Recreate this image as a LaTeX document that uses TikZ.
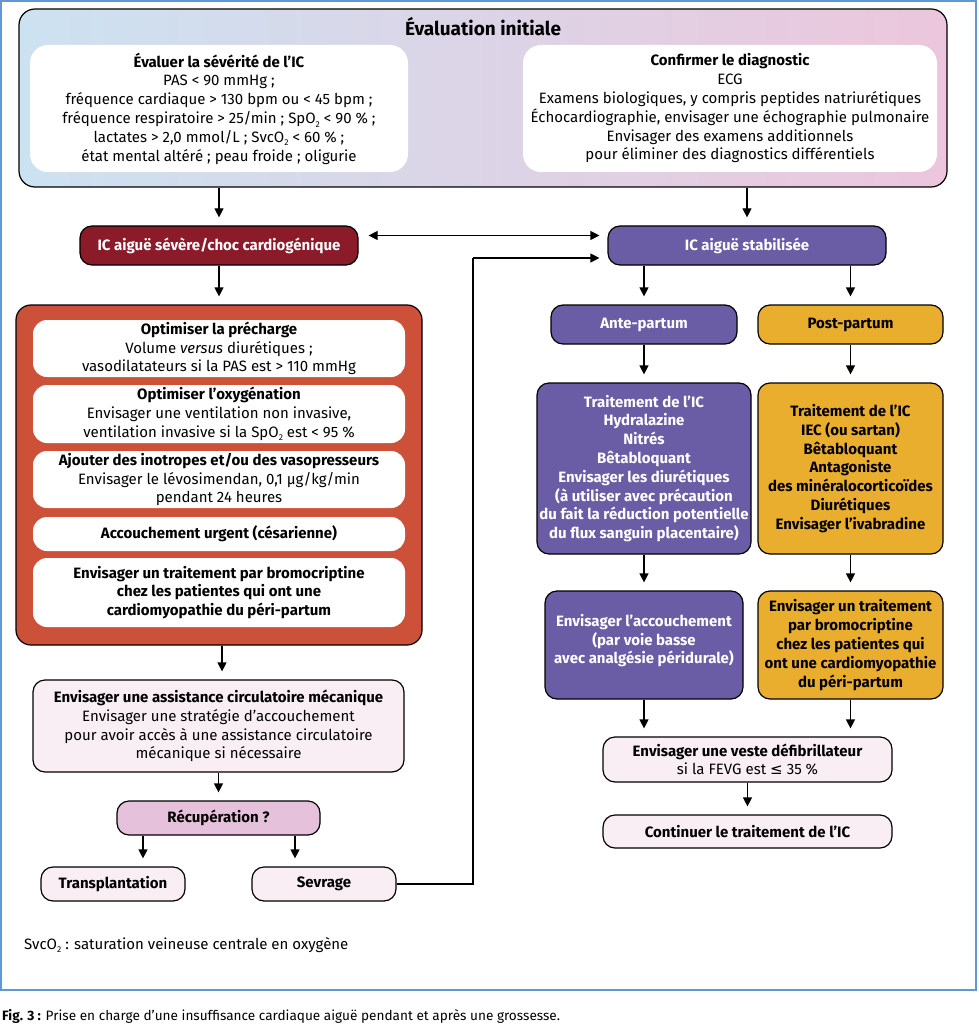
\documentclass[tikz,border=0pt]{standalone}
\usepackage{fontspec}
\setmainfont{Fira Sans}
\newfontfamily\symfont{DejaVu Sans}
\usetikzlibrary{arrows.meta}
\newcommand\lowtwo{\raisebox{-0.45ex}{\fontsize{8.5}{8.5}\selectfont 2}}
\definecolor{framecol}{RGB}{96,152,212}
\definecolor{gradL}{RGB}{204,226,241}
\definecolor{gradR}{RGB}{236,198,220}
\definecolor{darkred}{RGB}{140,27,42}
\definecolor{redbox}{RGB}{205,80,56}
\definecolor{purp}{RGB}{106,93,165}
\definecolor{yell}{RGB}{233,174,45}
\definecolor{lpink}{RGB}{248,238,244}
\definecolor{mpink}{RGB}{230,193,219}
\begin{document}
\begin{tikzpicture}[x=1pt,y=-1pt,
  body/.style={font=\fontsize{15}{18.8}\selectfont, align=center, inner sep=1pt},
  bbody/.style={font=\fontsize{15}{18.8}\selectfont\bfseries, align=center, inner sep=1pt},
  box/.style={draw=black, line width=1.2pt, rounded corners=12pt},
  wbox/.style={fill=white, draw=none, rounded corners=14pt},
  arr/.style={line width=1.2pt, -{Triangle[length=9pt,width=9pt]}, shorten >=8pt},
  darr/.style={line width=1.2pt, {Triangle[length=9pt,width=9pt]}-{Triangle[length=9pt,width=9pt]}},
  conn/.style={line width=1.2pt}
]
\useasboundingbox (0,0) rectangle (978,1024);
\fill[white] (0,0) rectangle (978,1024);
\draw[framecol, line width=2pt] (1,1) rectangle (976,990);

% Top evaluation box
\node[box, rounded corners=16pt, left color=gradL, right color=gradR, minimum width=928pt, minimum height=178pt] (eval) at (483,98) {};
\node[font=\fontsize{19}{22}\selectfont\bfseries] (evtitle) at (483,27) {Évaluation initiale};
\node[body, wbox, rounded corners=18pt, minimum width=378pt, minimum height=127pt] (sev) at (219,108.5)
 {\textbf{Évaluer la sévérité de l’IC}\\ PAS < 90 mmHg ;\\ fréquence cardiaque > 130 bpm ou < 45 bpm ;\\ fréquence respiratoire > 25/min ; SpO\lowtwo{} < 90 \% ;\\ lactates > 2,0 mmol/L ; SvcO\lowtwo{} < 60 \% ;\\ état mental altéré ; peau froide ; oligurie};
\node[body, wbox, rounded corners=18pt, minimum width=414pt, minimum height=127pt] (diag) at (730,108.5)
 {\textbf{Confirmer le diagnostic}\\ ECG\\ Examens biologiques, y compris peptides natriurétiques\\ Échocardiographie, envisager une échographie pulmonaire\\ Envisager des examens additionnels\\ pour éliminer des diagnostics différentiels};

% Second row
\node[bbody, box, fill=darkred, text=white, minimum width=278pt, minimum height=39pt] (choc) at (219,245.5) {IC aiguë sévère/choc cardiogénique};
\node[bbody, box, fill=purp, text=white, minimum width=278pt, minimum height=39pt] (stab) at (747,245.5) {IC aiguë stabilisée};

% Left red container
\node[box, rounded corners=15pt, fill=redbox, minimum width=406pt, minimum height=340pt] (redc) at (219,475) {};
\node[body, wbox, minimum width=372pt, minimum height=57pt] (pre) at (219,348.5)
 {\textbf{Optimiser la précharge}\\ Volume \textit{versus} diurétiques ;\\ vasodilatateurs si la PAS est > 110 mmHg};
\node[body, wbox, minimum width=372pt, minimum height=58pt] (oxy) at (219,414)
 {\textbf{Optimiser l’oxygénation}\\ Envisager une ventilation non invasive,\\ ventilation invasive si la SpO\lowtwo{} est < 95 \%};
\node[body, wbox, minimum width=372pt, minimum height=57pt] (ino) at (219,479.5)
 {\textbf{Ajouter des inotropes et/ou des vasopresseurs}\\ Envisager le lévosimendan, 0,1 µg/kg/min\\ pendant 24 heures};
\node[bbody, wbox, minimum width=372pt, minimum height=34pt] (ces) at (219,534)
 {Accouchement urgent (césarienne)};
\node[bbody, wbox, minimum width=372pt, minimum height=69pt] (bromL) at (219,592.5)
 {Envisager un traitement par bromocriptine\\ chez les patientes qui ont une\\ cardiomyopathie du péri-partum};

\node[body, box, fill=lpink, minimum width=371pt, minimum height=92pt] (assist) at (218.5,726)
 {\textbf{Envisager une assistance circulatoire mécanique}\\ Envisager une stratégie d’accouchement\\ pour avoir accès à une assistance circulatoire\\ mécanique si nécessaire};
\node[bbody, box, fill=mpink, minimum width=203pt, minimum height=34pt] (recup) at (218.5,818) {Récupération ?};
\node[bbody, box, fill=lpink, minimum width=144pt, minimum height=34pt] (transp) at (113,884) {Transplantation};
\node[bbody, box, fill=lpink, minimum width=144pt, minimum height=34pt] (sevr) at (324,884) {Sevrage};

% Right column
\node[bbody, box, fill=purp, text=white, minimum width=186pt, minimum height=39pt] (ante) at (644,324.5) {Ante-partum};
\node[bbody, box, fill=yell, minimum width=185pt, minimum height=39pt] (post) at (850.5,324.5) {Post-partum};
\node[bbody, box, fill=purp, text=white, minimum width=214pt, minimum height=171pt] (trA) at (644,468.5)
 {Traitement de l’IC\\ Hydralazine\\ Nitrés\\ Bêtabloquant\\ Envisager les diurétiques\\ (à utiliser avec précaution\\ du fait la réduction potentielle\\ du flux sanguin placentaire)};
\node[bbody, box, fill=yell, minimum width=185pt, minimum height=171pt] (trP) at (850.5,468.5)
 {Traitement de l’IC\\ IEC (ou sartan)\\ Bêtabloquant\\ Antagoniste\\ des minéralocorticoïdes\\ Diurétiques\\ Envisager l’ivabradine};
\node[bbody, box, fill=purp, text=white, minimum width=198pt, minimum height=108pt, text depth=12pt] (acc) at (644,645)
 {Envisager l’accouchement\\ (par voie basse\\ avec analgésie péridurale)};
\node[bbody, box, fill=yell, minimum width=185pt, minimum height=108pt] (bromP) at (850.5,645)
 {Envisager un traitement\\ par bromocriptine\\ chez les patientes qui\\ ont une cardiomyopathie\\ du péri-partum};
\node[body, box, fill=lpink, minimum width=289pt, minimum height=45pt] (veste) at (747.5,759.5)
 {\textbf{Envisager une veste défibrillateur}\\ si la FEVG est {\symfont ≤} 35 \%};
\node[bbody, box, fill=lpink, minimum width=289pt, minimum height=33pt] (cont) at (747.5,831.5) {Continuer le traitement de l’IC};

% Texts
\node[body, anchor=west, inner sep=0pt] (foot) at (24,945) {SvcO\lowtwo{} : saturation veineuse centrale en oxygène};
\node[anchor=west, inner sep=0pt, font=\fontsize{13.6}{15}\selectfont] (cap) at (2,1016)
 {\textbf{Fig. 3 :} Prise en charge d’une insuffisance cardiaque aiguë pendant et après une grossesse.};

% Arrows
\draw[arr] (choc.north |- eval.south) -- (choc.north);
\draw[arr] (stab.north |- eval.south) -- (stab.north);
\draw[darr, shorten <=10pt, shorten >=8pt] ([yshift=10pt]choc.east) -- ([yshift=10pt]stab.west);
\draw[arr] (choc.south) -- (redc.north);
\draw[arr] ([xshift=3pt]redc.south) -- ([xshift=3pt]redc.south |- assist.north);
\draw[arr] (assist.south) -- (recup.north);
\draw[arr] ([xshift=-75.5pt]recup.south) -- ([xshift=-75.5pt]recup.south |- transp.north);
\draw[arr] ([xshift=76.5pt]recup.south) -- ([xshift=76.5pt]recup.south |- sevr.north);
\coordinate (bend) at (473,258);
\draw[conn] (sevr.east) -| (bend);
\draw[arr] (bend) -- (stab.west |- bend);
\draw[arr] (ante.north |- stab.south) -- (ante.north);
\draw[arr] (post.north |- stab.south) -- (post.north);
\draw[arr] (ante.south) -- (trA.north);
\draw[arr] (post.south) -- (trP.north);
\draw[arr] (trA.south) -- (acc.north);
\draw[arr] (trP.south) -- (bromP.north);
\draw[arr] (acc.south) -- (acc.south |- veste.north);
\draw[arr] (bromP.south) -- (bromP.south |- veste.north);
\draw[arr] (cont.north |- veste.south) -- (cont.north);
\end{tikzpicture}
\end{document}
